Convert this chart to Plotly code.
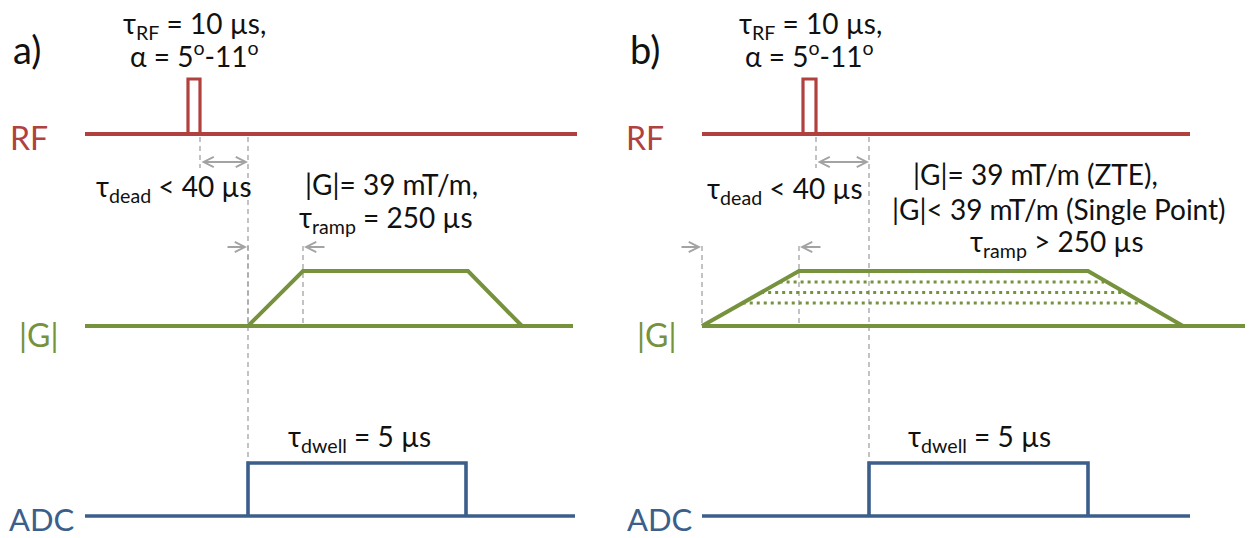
import plotly.graph_objects as go

# ---------------- data (timeline positions, in diagram units) ----------------
PANEL_LABELS = ["a)", "b)"]
# RF channel: line start, pulse on, pulse off, line end
RF_START = [85, 702]
RF_ON = [188, 803]
RF_OFF = [200, 816]
RF_END = [577, 1190]
# Gradient channel: line start, ramp-up start, plateau start, plateau end, ramp-down end, line end
G_START = [85, 702]
G_RAMP_UP = [248, 702]
G_PLATEAU = [303, 799]
G_PLATEAU_END = [468, 1088]
G_RAMP_DOWN = [522, 1183]
G_END = [573, 1245]
# Reduced gradient amplitudes (Single Point), fraction of full amplitude (panel b only)
G_REDUCED_LEVELS = [0.80, 0.61, 0.42]
# ADC channel: line start, acquisition on, acquisition off, line end
ADC_START = [85, 702]
ADC_ON = [248, 869]
ADC_OFF = [466, 1088]
ADC_END = [575, 1190]

CHANNEL_NAMES = ["RF", "|G|", "ADC"]
TEXT_RF = ["τ<sub>RF</sub> = 10 µs,", "τ<sub>RF</sub> = 10 µs,"]
TEXT_ALPHA = ["α = 5<sup>o</sup>-11<sup>o</sup>", "α = 5<sup>o</sup>-11<sup>o</sup>"]
TEXT_DEAD = ["τ<sub>dead</sub> < 40 µs", "τ<sub>dead</sub> < 40 µs"]
TEXT_G = [["|G|= 39 mT/m,", "τ<sub>ramp</sub> = 250 µs"],
          ["|G|= 39 mT/m (ZTE),", "|G|< 39 mT/m (Single Point)", "τ<sub>ramp</sub> > 250 µs"]]
TEXT_DWELL = ["τ<sub>dwell</sub> = 5 µs", "τ<sub>dwell</sub> = 5 µs"]

# ---------------- layout constants ----------------
W, H = 1254, 538
RF_BASE, RF_PEAK = 134, 79
G_BASE, G_PEAK = 326, 271
ADC_BASE, ADC_PEAK = 516, 463
RED = "#B0413E"
GREEN = "#76923C"
BLUE = "#3B5E8A"
GRAY = "#A3A3A3"
TXT = "#111111"
FONT = "Lato"

fig = go.Figure()

def line(xs, ys, color, width, dash=None):
    fig.add_trace(go.Scatter(x=xs, y=ys, mode="lines", hoverinfo="skip",
                             line=dict(color=color, width=width, dash=dash),
                             showlegend=False))

annotations = []

def text(x, y, s, size=28, color=TXT, xanchor="center"):
    annotations.append(dict(x=x, y=y, xref="x", yref="y", text=s, showarrow=False,
                            xanchor=xanchor, yanchor="middle",
                            font=dict(family=FONT, size=size, color=color)))

def arrow(x_head, x_tail, y, both=False):
    annotations.append(dict(x=x_head, y=y, ax=x_tail, ay=y, xref="x", yref="y",
                            axref="x", ayref="y", text="", showarrow=True,
                            arrowhead=5, startarrowhead=5, arrowsize=0.9,
                            startarrowsize=0.9, arrowwidth=2.2, arrowcolor=GRAY,
                            arrowside="end+start" if both else "end",
                            standoff=0, startstandoff=0))

dash_gray = "5px,4px"

for i in range(2):
    # gray dashed timing guides
    line([RF_OFF[i], RF_OFF[i]], [RF_BASE + 3, 168], GRAY, 1.3, dash_gray)
    line([ADC_ON[i], ADC_ON[i]], [RF_BASE + 3, ADC_PEAK], GRAY, 1.3, dash_gray)
    line([G_RAMP_UP[i], G_RAMP_UP[i]], [246, G_BASE], GRAY, 1.3, dash_gray)
    line([G_PLATEAU[i], G_PLATEAU[i]], [246, G_BASE], GRAY, 1.3, dash_gray)

    # RF waveform: baseline + pulse
    line([RF_START[i], RF_END[i]], [RF_BASE, RF_BASE], RED, 3.8)
    line([RF_ON[i], RF_ON[i], RF_OFF[i], RF_OFF[i]],
         [RF_BASE, RF_PEAK, RF_PEAK, RF_BASE], RED, 3.2)

    # reduced gradient amplitudes (dotted)
    if i == 1:
        for f in G_REDUCED_LEVELS:
            yl = G_BASE - f * (G_BASE - G_PEAK)
            xl = G_RAMP_UP[i] + f * (G_PLATEAU[i] - G_RAMP_UP[i])
            xr = G_RAMP_DOWN[i] - f * (G_RAMP_DOWN[i] - G_PLATEAU_END[i]) - 3
            line([xl, xr], [yl, yl], GREEN, 3, "3px,4px")

    # gradient waveform: baseline + trapezoid
    line([G_START[i], G_END[i]], [G_BASE, G_BASE], GREEN, 4)
    line([G_RAMP_UP[i], G_PLATEAU[i], G_PLATEAU_END[i], G_RAMP_DOWN[i]],
         [G_BASE, G_PEAK, G_PEAK, G_BASE], GREEN, 4)

    # ADC waveform: baseline + acquisition window
    line([ADC_START[i], ADC_END[i]], [ADC_BASE, ADC_BASE], BLUE, 3.6)
    line([ADC_ON[i], ADC_ON[i], ADC_OFF[i], ADC_OFF[i]],
         [ADC_BASE, ADC_PEAK, ADC_PEAK, ADC_BASE], BLUE, 3.6)

    # arrows
    arrow(ADC_ON[i], RF_OFF[i], 162, both=True)
    arrow(G_RAMP_UP[i] - 1, G_RAMP_UP[i] - 22, 247)
    arrow(G_PLATEAU[i] + 1, G_PLATEAU[i] + 23, 247)

# ---- text ----
# panel a
text(27, 49, PANEL_LABELS[0], size=38)
text(194, 25, TEXT_RF[0])
text(194, 54, TEXT_ALPHA[0])
text(174, 188, TEXT_DEAD[0])
text(391, 184, TEXT_G[0][0])
text(386, 219, TEXT_G[0][1])
text(359, 438, TEXT_DWELL[0])
text(29, 137, CHANNEL_NAMES[0], size=32, color=RED)
text(38, 334, CHANNEL_NAMES[1], size=32, color=GREEN)
text(42, 519, CHANNEL_NAMES[2], size=31, color=BLUE)
# panel b
text(645, 49, PANEL_LABELS[1], size=38)
text(810, 25, TEXT_RF[1])
text(809, 54, TEXT_ALPHA[1])
text(785, 190, TEXT_DEAD[1])
text(1035, 174, TEXT_G[1][0])
text(1059, 209, TEXT_G[1][1])
text(1057, 243, TEXT_G[1][2])
text(979, 438, TEXT_DWELL[1])
text(645, 137, CHANNEL_NAMES[0], size=32, color=RED)
text(656, 334, CHANNEL_NAMES[1], size=32, color=GREEN)
text(660, 519, CHANNEL_NAMES[2], size=31, color=BLUE)

fig.update_layout(
    width=W, height=H, autosize=False,
    margin=dict(l=0, r=0, t=0, b=0),
    paper_bgcolor="white", plot_bgcolor="white",
    xaxis=dict(range=[0, W], visible=False, fixedrange=True),
    yaxis=dict(range=[H, 0], visible=False, fixedrange=True),
    annotations=annotations,
    showlegend=False,
)

fig.write_html("out.html", config={"displayModeBar": False})
